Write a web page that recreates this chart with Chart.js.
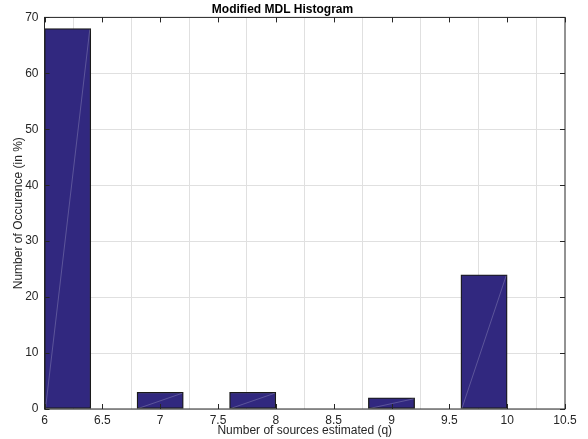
<!DOCTYPE html>
<html>
<head>
<meta charset="utf-8">
<script src="https://cdn.jsdelivr.net/npm/chart.js@4/dist/chart.umd.min.js"></script>
<style>
  body { margin: 0; background: #fff; }
  #hist { display: block; }
</style>
</head>
<body>
<canvas id="hist" width="588" height="439"></canvas>
<script>
// bin centres (bin width 0.4 between 6 and 10) and occurrence in %
var binCenters = [6.2, 6.6, 7.0, 7.4, 7.8, 8.2, 8.6, 9.0, 9.4, 9.8];
var occurrence = [68, 0, 3, 0, 3, 0, 0, 2, 0, 24];
var xTicks = [6, 6.5, 7, 7.5, 8, 8.5, 9, 9.5, 10, 10.5];
var yTicks = [0, 10, 20, 30, 40, 50, 60, 70];

var fontFam = '"Liberation Sans", Arial, Helvetica, sans-serif';
var axisCol = '#262626';

// box around plot, inward ticks and the faint diagonals matlab leaves in patches
var boxPlugin = {
    id: 'box',
    afterDatasetsDraw: function (chart) {
        var ctx = chart.ctx;
        var meta = chart.getDatasetMeta(0);
        ctx.save();
        ctx.strokeStyle = 'rgba(255,255,255,0.35)';
        ctx.lineWidth = 0.6;
        meta.data.forEach(function (bar) {
            var p = bar.getProps(['x', 'y', 'base', 'width'], true);
            if (Math.abs(p.base - p.y) < 1) return;
            ctx.beginPath();
            ctx.moveTo(p.x - p.width / 2 + 1, p.base);
            ctx.lineTo(p.x + p.width / 2 - 1, p.y + 1);
            ctx.stroke();
        });
        ctx.restore();
    },
    afterDraw: function (chart) {
        var ctx = chart.ctx, a = chart.chartArea;
        var xs = chart.scales.x, ys = chart.scales.y;
        ctx.save();
        ctx.strokeStyle = axisCol;
        ctx.lineWidth = 1;
        ctx.beginPath();
        xTicks.forEach(function (v) {
            var px = Math.round(xs.getPixelForValue(v)) + 0.5;
            ctx.moveTo(px, a.bottom); ctx.lineTo(px, a.bottom - 5);
            ctx.moveTo(px, a.top); ctx.lineTo(px, a.top + 5);
        });
        yTicks.forEach(function (v) {
            var py = Math.round(ys.getPixelForValue(v)) + 0.5;
            ctx.moveTo(a.left, py); ctx.lineTo(a.left + 5, py);
            ctx.moveTo(a.right, py); ctx.lineTo(a.right - 5, py);
        });
        ctx.stroke();
        ctx.strokeRect(a.left, a.top, a.right - a.left, a.bottom - a.top);
        ctx.restore();
    }
};

new Chart(document.getElementById('hist'), {
    type: 'bar',
    data: {
        datasets: [{
            label: 'occurrence',
            data: binCenters.map(function (c, i) { return { x: c, y: occurrence[i] }; }),
            backgroundColor: '#31287f',
            borderColor: '#1a1a1a',
            borderWidth: 1.3,
            borderSkipped: false,
            barPercentage: 1,
            categoryPercentage: 1
        }]
    },
    options: {
        responsive: false,
        animation: false,
        layout: { padding: { left: 0, right: 23, top: 0, bottom: 0 } },
        plugins: {
            legend: { display: false },
            tooltip: { enabled: false },
            title: {
                display: true,
                text: 'Modified MDL Histogram',
                color: '#000',
                font: { family: fontFam, size: 12, weight: 'bold' },
                padding: { top: 2, bottom: 1 }
            }
        },
        scales: {
            x: {
                type: 'linear',
                min: 6,
                max: 10.5,
                offset: false,
                afterBuildTicks: function (s) {
                    s.ticks = xTicks.map(function (v) { return { value: v }; });
                },
                afterFit: function (s) { s.height = 30; },
                grid: { color: '#e0e0e0', tickLength: 0, drawTicks: false },
                border: { display: false },
                ticks: {
                    color: axisCol,
                    padding: 4,
                    maxRotation: 0,
                    autoSkip: false,
                    font: { family: fontFam, size: 12 },
                    callback: function (v) { return String(v); }
                },
                title: {
                    display: true,
                    text: 'Number of sources estimated (q)',
                    color: axisCol,
                    font: { family: fontFam, size: 12 },
                    padding: { top: 0, bottom: 1 }
                }
            },
            y: {
                min: 0,
                max: 70,
                afterBuildTicks: function (s) {
                    s.ticks = yTicks.map(function (v) { return { value: v }; });
                },
                afterFit: function (s) { s.width = 44.5; },
                grid: { color: '#e0e0e0', tickLength: 0, drawTicks: false },
                border: { display: false },
                ticks: {
                    color: axisCol,
                    padding: 6,
                    font: { family: fontFam, size: 12 },
                    callback: function (v) { return String(v); }
                },
                title: {
                    display: true,
                    text: 'Number of Occurence (in %)',
                    color: axisCol,
                    font: { family: fontFam, size: 12 },
                    padding: { top: 11, bottom: 0 }
                }
            }
        }
    },
    plugins: [boxPlugin]
});
</script>
</body>
</html>
